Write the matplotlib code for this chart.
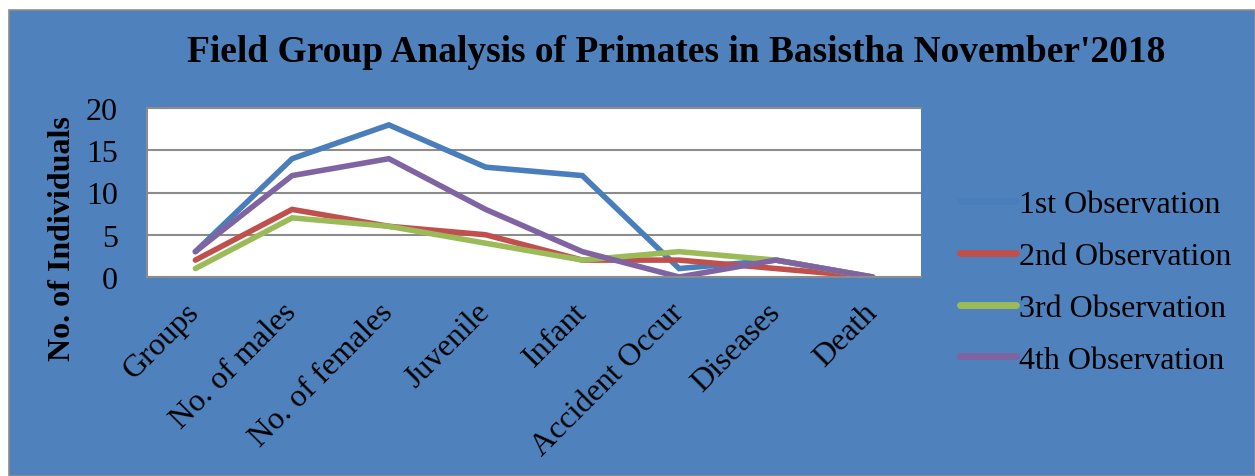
import matplotlib
matplotlib.use("Agg")
import matplotlib.pyplot as plt
from matplotlib.patches import Rectangle

categories = ["Groups", "No. of males", "No. of females", "Juvenile", "Infant",
              "Accident Occur", "Diseases", "Death"]
obs1 = [3, 14, 18, 13, 12, 1, 2, 0]
obs2 = [2, 8, 6, 5, 2, 2, 1, 0]
obs3 = [1, 7, 6, 4, 2, 3, 2, 0]
obs4 = [3, 12, 14, 8, 3, 0, 2, 0]
series_names = ["1st Observation", "2nd Observation", "3rd Observation", "4th Observation"]
yticks = [0, 5, 10, 15, 20]

plt.rcParams["font.family"] = ["Liberation Serif", "DejaVu Serif"]

bg = "#4F81BD"
colors = ["#4A7EBB", "#C0504D", "#9BBB59", "#8064A2"]

fig = plt.figure(figsize=(12.55, 4.77), dpi=100)
fig.patch.set_facecolor("white")
# blue chart box
fig.patches.append(Rectangle((9 / 1255, 0), 1 - 9 / 1255, 466 / 477,
                             transform=fig.transFigure, facecolor=bg,
                             edgecolor="#8C8C8C", linewidth=1.2, zorder=-10))

ax = fig.add_axes([147 / 1255, (477 - 278) / 477, 774 / 1255, 169 / 477])
ax.set_zorder(5)
ax.set_facecolor("white")

x = list(range(len(categories)))
for vals, name, c in zip([obs1, obs2, obs3, obs4], series_names, colors):
    ax.plot(x, vals, color=c, lw=4, label=name, solid_capstyle="round",
            solid_joinstyle="miter")

ax.set_xlim(-0.5, len(categories) - 0.5)
ax.set_ylim(0, 20)
ax.set_yticks(yticks)
ax.set_yticklabels([str(v) for v in yticks], fontsize=23)
ax.yaxis.grid(True, color="#8C8C8C", lw=1.5)
ax.set_axisbelow(True)
ax.tick_params(axis="both", length=0)
ax.tick_params(axis="y", pad=21)
ax.set_xticks(x)
ax.set_xticklabels(categories, fontsize=23, rotation=45, ha="right",
                   va="center", rotation_mode="anchor")
ax.tick_params(axis="x", pad=22)
for s in ax.spines.values():
    s.set_color("#8C8C8C")
    s.set_linewidth(1.5)
ax.spines["right"].set_visible(False)

fig.text(676 / 1255, (477 - 52) / 477,
         "Field Group Analysis of Primates in Basistha November'2018",
         ha="center", va="center", fontsize=27, fontweight="bold")
fig.text(62 / 1255, 238 / 477, "No. of Individuals", rotation=90,
         ha="center", va="center", fontsize=23, fontweight="bold")

leg = fig.legend(loc="upper left", bbox_to_anchor=(960 / 1255, (477 - 191) / 477),
                 frameon=False, fontsize=23, handlelength=1.75,
                 handletextpad=0.1, labelspacing=0.7, borderpad=0,
                 borderaxespad=0)
for h in leg.get_lines():
    h.set_linewidth(5)

fig.savefig("out.png", dpi=100, facecolor="white")
